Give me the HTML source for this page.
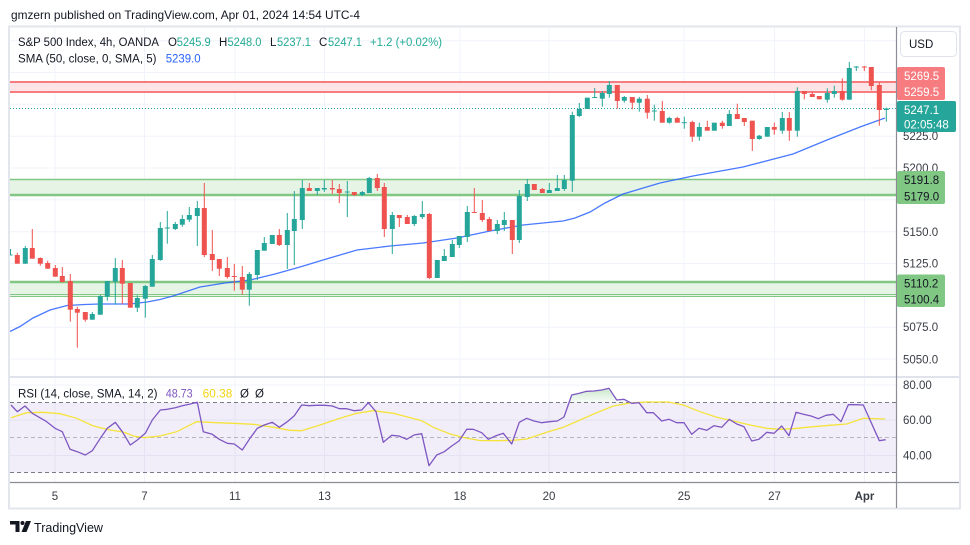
<!DOCTYPE html>
<html><head><meta charset="utf-8"><style>
html,body{margin:0;padding:0;background:#fff;}
body{width:970px;height:545px;overflow:hidden;}
svg{display:block;font-family:"Liberation Sans",Arial,sans-serif;}
</style></head><body>
<svg width="970" height="545" viewBox="0 0 970 545" xmlns="http://www.w3.org/2000/svg">
<rect x="0" y="0" width="970" height="545" fill="#fff"/>
<text x="11" y="19" font-size="12" fill="#131722" textLength="349" lengthAdjust="spacingAndGlyphs">gmzern published on TradingView.com, Apr 01, 2024 14:54 UTC-4</text>
<!-- frame -->
<rect x="9" y="26.5" width="951" height="482" fill="#fff" stroke="#e3e6ec" stroke-width="2"/>
<!-- grid -->
<g stroke="#f0f3fa" stroke-width="1">
<line x1="10" y1="40.7" x2="896" y2="40.7"/><line x1="10" y1="72.5" x2="896" y2="72.5"/><line x1="10" y1="104.3" x2="896" y2="104.3"/><line x1="10" y1="136.2" x2="896" y2="136.2"/><line x1="10" y1="168" x2="896" y2="168"/><line x1="10" y1="199.8" x2="896" y2="199.8"/><line x1="10" y1="231.7" x2="896" y2="231.7"/><line x1="10" y1="263.5" x2="896" y2="263.5"/><line x1="10" y1="295.3" x2="896" y2="295.3"/><line x1="10" y1="327.2" x2="896" y2="327.2"/><line x1="10" y1="359" x2="896" y2="359"/>
<line x1="55" y1="27" x2="55" y2="482"/><line x1="144.5" y1="27" x2="144.5" y2="482"/><line x1="235" y1="27" x2="235" y2="482"/><line x1="324.5" y1="27" x2="324.5" y2="482"/><line x1="460" y1="27" x2="460" y2="482"/><line x1="549" y1="27" x2="549" y2="482"/><line x1="684" y1="27" x2="684" y2="482"/><line x1="774.5" y1="27" x2="774.5" y2="482"/><line x1="864.5" y1="27" x2="864.5" y2="482"/>
</g>
<!-- zones -->
<rect x="10" y="82" width="886" height="10" fill="#fde4e6"/>
<line x1="10" y1="82" x2="896" y2="82" stroke="#f77c80" stroke-width="2"/>
<line x1="10" y1="92" x2="896" y2="92" stroke="#f77c80" stroke-width="2"/>
<rect x="10" y="179.5" width="886" height="15.5" fill="#e6f4e6"/>
<line x1="10" y1="179.5" x2="896" y2="179.5" stroke="#81c784" stroke-width="1.5"/>
<line x1="10" y1="195" x2="896" y2="195" stroke="#81c784" stroke-width="2.5"/>
<rect x="10" y="282" width="886" height="14" fill="#e6f4e6"/>
<line x1="10" y1="282" x2="896" y2="282" stroke="#81c784" stroke-width="2.5"/>
<line x1="10" y1="294.5" x2="896" y2="294.5" stroke="#81c784" stroke-width="1"/>
<line x1="10" y1="296.5" x2="896" y2="296.5" stroke="#81c784" stroke-width="1"/>
<!-- last price dotted -->
<line x1="10" y1="108.5" x2="896" y2="108.5" stroke="#26a69a" stroke-width="1" stroke-dasharray="1 2"/>
<!-- SMA -->
<polyline fill="none" stroke="#2962ff" stroke-width="1.3" stroke-opacity="0.85" points="10,331.5 20,326.5 33,318 50,310 67,305.5 85,304.5 100,304 130,304 147,302 160,299.5 173,296 200,287 225,283 250,280 275,274 300,267 323,260 357,250 390,246 423,243 457,238 490,231 523,225 563,221 575,218 590,212 605,203 623,194 660,183 693,176 743,167 793,154 827,140 860,127 885,118"/>
<!-- teal candles -->
<g fill="#26a69a">
<rect x="10" y="249" width="1" height="6"/><rect x="10" y="254.5" width="2.5" height="1"/>
<rect x="24.8" y="246" width="1" height="17.7"/><rect x="22.8" y="248" width="5" height="15.7"/>
<rect x="91.8" y="312" width="1" height="7.7"/><rect x="89.8" y="314" width="5" height="5.7"/>
<rect x="99.8" y="295" width="1" height="19.7"/><rect x="97.8" y="296" width="5" height="18.7"/>
<rect x="106.8" y="281" width="1" height="19.7"/><rect x="104.8" y="281" width="5" height="15.7"/>
<rect x="114.8" y="258" width="1" height="46.7"/><rect x="112.8" y="268" width="5" height="13.7"/>
<rect x="136.8" y="295.3" width="1" height="16.7"/><rect x="134.8" y="298" width="5" height="9.7"/>
<rect x="144.8" y="285" width="1" height="32.7"/><rect x="142.8" y="286" width="5" height="12.7"/>
<rect x="151.8" y="255" width="1" height="31.7"/><rect x="149.8" y="259" width="5" height="27.7"/>
<rect x="159.8" y="222" width="1" height="38.7"/><rect x="157.8" y="228" width="5" height="32"/>
<rect x="166.8" y="211" width="1" height="32.7"/><rect x="164.8" y="227.5" width="5" height="1"/>
<rect x="174.8" y="222" width="1" height="8"/><rect x="172.8" y="224" width="5" height="5"/>
<rect x="181.8" y="215" width="1" height="11.7"/><rect x="179.8" y="219" width="5" height="5.7"/>
<rect x="188.8" y="207" width="1" height="15"/><rect x="186.8" y="215" width="5" height="4.7"/>
<rect x="196.8" y="201" width="1" height="45"/><rect x="194.8" y="208" width="5" height="8"/>
<rect x="248.8" y="272" width="1" height="33.7"/><rect x="246.8" y="274" width="5" height="15.7"/>
<rect x="256.8" y="250" width="1" height="30"/><rect x="254.8" y="250" width="5" height="25"/>
<rect x="263.8" y="237" width="1" height="13.7"/><rect x="261.8" y="243" width="5" height="7.7"/>
<rect x="271.8" y="235" width="1" height="9"/><rect x="269.8" y="235" width="5" height="9"/>
<rect x="286.8" y="213" width="1" height="56"/><rect x="284.8" y="230" width="5" height="15"/>
<rect x="293.8" y="191" width="1" height="74"/><rect x="291.8" y="219" width="5" height="12"/>
<rect x="301.8" y="180" width="1" height="49"/><rect x="299.8" y="188" width="5" height="32"/>
<rect x="316.8" y="188" width="1" height="7"/><rect x="314.8" y="188" width="5" height="3"/>
<rect x="323.8" y="180" width="1" height="12"/><rect x="321.8" y="188" width="5" height="1.5"/>
<rect x="346.8" y="181" width="1" height="36"/><rect x="344.8" y="191.5" width="5" height="1"/>
<rect x="361.8" y="191" width="1" height="5"/><rect x="359.8" y="192" width="5" height="3"/>
<rect x="368.8" y="177" width="1" height="16"/><rect x="366.8" y="178" width="5" height="15"/>
<rect x="391.8" y="212" width="1" height="42"/><rect x="389.8" y="215" width="5" height="14"/>
<rect x="413.8" y="215" width="1" height="11"/><rect x="411.8" y="216" width="5" height="8"/>
<rect x="421.8" y="201" width="1" height="18"/><rect x="419.8" y="214" width="5" height="3"/>
<rect x="436.8" y="260" width="1" height="18"/><rect x="434.8" y="260" width="5" height="18"/>
<rect x="443.8" y="249" width="1" height="12"/><rect x="441.8" y="256" width="5" height="5"/>
<rect x="451.8" y="240" width="1" height="17"/><rect x="449.8" y="244" width="5" height="13"/>
<rect x="458.8" y="236" width="1" height="12"/><rect x="456.8" y="236" width="5" height="9"/>
<rect x="466.8" y="206" width="1" height="36"/><rect x="464.8" y="212" width="5" height="25"/>
<rect x="496.8" y="220" width="1" height="14"/><rect x="494.8" y="224" width="5" height="7"/>
<rect x="503.8" y="212" width="1" height="19"/><rect x="501.8" y="220" width="5" height="5"/>
<rect x="518.8" y="190" width="1" height="53"/><rect x="516.8" y="196" width="5" height="44"/>
<rect x="526.8" y="179" width="1" height="22"/><rect x="524.8" y="184" width="5" height="13"/>
<rect x="548.8" y="183" width="1" height="10"/><rect x="546.8" y="190" width="5" height="3"/>
<rect x="556.8" y="175" width="1" height="16"/><rect x="554.8" y="188" width="5" height="3"/>
<rect x="563.8" y="175" width="1" height="16"/><rect x="561.8" y="180" width="5" height="9"/>
<rect x="571.8" y="111.7" width="1" height="80.3"/><rect x="569.8" y="115" width="5" height="65.7"/>
<rect x="578.8" y="103" width="1" height="14"/><rect x="576.8" y="109" width="5" height="7"/>
<rect x="586.8" y="97.7" width="1" height="11.3"/><rect x="584.8" y="97.7" width="5" height="11.3"/>
<rect x="594.2" y="88" width="1" height="10"/><rect x="592.2" y="97" width="5" height="1"/>
<rect x="601.8" y="91" width="1" height="15.7"/><rect x="599.8" y="93" width="5" height="5.7"/>
<rect x="608.8" y="81" width="1" height="16.7"/><rect x="606.8" y="85" width="5" height="9"/>
<rect x="623.8" y="96" width="1" height="6.7"/><rect x="621.8" y="97" width="5" height="3.7"/>
<rect x="638.8" y="97" width="1" height="14.7"/><rect x="636.8" y="98.7" width="5" height="4"/>
<rect x="653.8" y="104.7" width="1" height="16"/><rect x="651.8" y="110.5" width="5" height="1"/>
<rect x="668.8" y="116.7" width="1" height="7"/><rect x="666.8" y="118" width="5" height="4.7"/>
<rect x="683.8" y="116.7" width="1" height="12"/><rect x="681.8" y="122.2" width="5" height="1"/>
<rect x="698.8" y="122.7" width="1" height="18"/><rect x="696.8" y="127" width="5" height="9.7"/>
<rect x="713.8" y="122.7" width="1" height="8"/><rect x="711.8" y="122.7" width="5" height="8"/>
<rect x="728.8" y="110" width="1" height="16"/><rect x="726.8" y="114" width="5" height="12"/>
<rect x="758.8" y="135" width="1" height="4.7"/><rect x="756.8" y="135.7" width="5" height="3.3"/>
<rect x="766.8" y="127" width="1" height="9.7"/><rect x="764.8" y="127" width="5" height="9.7"/>
<rect x="781.8" y="112" width="1" height="21.7"/><rect x="779.8" y="118" width="5" height="12.7"/>
<rect x="796.8" y="87.3" width="1" height="49.4"/><rect x="794.8" y="91" width="5" height="39.7"/>
<rect x="826.8" y="88.3" width="1" height="14.4"/><rect x="824.8" y="93" width="5" height="6.7"/>
<rect x="833.8" y="85.7" width="1" height="12"/><rect x="831.8" y="91" width="5" height="3"/>
<rect x="848.8" y="62" width="1" height="37.7"/><rect x="846.8" y="68" width="5" height="31.7"/>
<rect x="855.8" y="66" width="1" height="5"/><rect x="853.8" y="66.5" width="5" height="1"/>
<rect x="885.8" y="107.7" width="1" height="14"/><rect x="883.8" y="108.5" width="5" height="1.5"/>
</g>
<!-- red candles -->
<g fill="#ef5350">
<rect x="16.8" y="252.7" width="1" height="11"/><rect x="14.8" y="255" width="5" height="8.7"/>
<rect x="31.8" y="229" width="1" height="29.7"/><rect x="29.8" y="248" width="5" height="10.7"/>
<rect x="39.8" y="257.3" width="1" height="8.4"/><rect x="37.8" y="258" width="5" height="5.7"/>
<rect x="47.2" y="260.7" width="1" height="8"/><rect x="45.2" y="263" width="5" height="5.7"/>
<rect x="54.8" y="265" width="1" height="11.7"/><rect x="52.8" y="268" width="5" height="8.7"/>
<rect x="61.8" y="267" width="1" height="15.7"/><rect x="59.8" y="276" width="5" height="6"/>
<rect x="69.8" y="274" width="1" height="47.7"/><rect x="67.8" y="281" width="5" height="28.7"/>
<rect x="76.8" y="306.7" width="1" height="41"/><rect x="74.8" y="309" width="5" height="3.7"/>
<rect x="84.8" y="312" width="1" height="9.7"/><rect x="82.8" y="312" width="5" height="7.7"/>
<rect x="121.8" y="260" width="1" height="44.3"/><rect x="119.8" y="268" width="5" height="15.7"/>
<rect x="129.8" y="283" width="1" height="24.7"/><rect x="127.8" y="283" width="5" height="24.7"/>
<rect x="203.8" y="183" width="1" height="74"/><rect x="201.8" y="208" width="5" height="47"/>
<rect x="211.8" y="230" width="1" height="41"/><rect x="209.8" y="254" width="5" height="6"/>
<rect x="218.8" y="259" width="1" height="17"/><rect x="216.8" y="259" width="5" height="9.7"/>
<rect x="226.8" y="257" width="1" height="21.7"/><rect x="224.8" y="268" width="5" height="9"/>
<rect x="233.8" y="264" width="1" height="26.7"/><rect x="231.8" y="276" width="5" height="1"/>
<rect x="241.8" y="266" width="1" height="28.7"/><rect x="239.8" y="277" width="5" height="12.7"/>
<rect x="278.8" y="229" width="1" height="17"/><rect x="276.8" y="235" width="5" height="10"/>
<rect x="308.8" y="183" width="1" height="8"/><rect x="306.8" y="188" width="5" height="3"/>
<rect x="331.8" y="180" width="1" height="14"/><rect x="329.8" y="188" width="5" height="1.5"/>
<rect x="338.8" y="184" width="1" height="19"/><rect x="336.8" y="189" width="5" height="4"/>
<rect x="353.8" y="192" width="1" height="4"/><rect x="351.8" y="192" width="5" height="3"/>
<rect x="376.8" y="174" width="1" height="17"/><rect x="374.8" y="178" width="5" height="10"/>
<rect x="383.8" y="183" width="1" height="54"/><rect x="381.8" y="187" width="5" height="42"/>
<rect x="398.8" y="215" width="1" height="12"/><rect x="396.8" y="215" width="5" height="3"/>
<rect x="406.8" y="215" width="1" height="9"/><rect x="404.8" y="217" width="5" height="7"/>
<rect x="428.8" y="213" width="1" height="66"/><rect x="426.8" y="214" width="5" height="64"/>
<rect x="473.8" y="188" width="1" height="25"/><rect x="471.8" y="212" width="5" height="1"/>
<rect x="481.8" y="200" width="1" height="22"/><rect x="479.8" y="213" width="5" height="7"/>
<rect x="488.8" y="217" width="1" height="14"/><rect x="486.8" y="219" width="5" height="12"/>
<rect x="511.8" y="220" width="1" height="34"/><rect x="509.8" y="220" width="5" height="20"/>
<rect x="533.8" y="184" width="1" height="6"/><rect x="531.8" y="184" width="5" height="6"/>
<rect x="541.8" y="188" width="1" height="5"/><rect x="539.8" y="189" width="5" height="4"/>
<rect x="616.8" y="85" width="1" height="23.7"/><rect x="614.8" y="85" width="5" height="16"/>
<rect x="631.8" y="97" width="1" height="12.3"/><rect x="629.8" y="97" width="5" height="5.7"/>
<rect x="646.8" y="95" width="1" height="23.7"/><rect x="644.8" y="98.7" width="5" height="14"/>
<rect x="661.8" y="101" width="1" height="21.7"/><rect x="659.8" y="111" width="5" height="11.7"/>
<rect x="676.8" y="116.7" width="1" height="6"/><rect x="674.8" y="118" width="5" height="4.7"/>
<rect x="691.8" y="120.7" width="1" height="21"/><rect x="689.8" y="122" width="5" height="14.7"/>
<rect x="706.8" y="120.7" width="1" height="10"/><rect x="704.8" y="127" width="5" height="3.7"/>
<rect x="721.8" y="120.7" width="1" height="8"/><rect x="719.8" y="122.7" width="5" height="3.3"/>
<rect x="736.8" y="103.7" width="1" height="15.3"/><rect x="734.8" y="114" width="5" height="5"/>
<rect x="743.8" y="118" width="1" height="8"/><rect x="741.8" y="118" width="5" height="4"/>
<rect x="751.8" y="120.7" width="1" height="30.3"/><rect x="749.8" y="120.7" width="5" height="18.3"/>
<rect x="773.8" y="122.7" width="1" height="12"/><rect x="771.8" y="127" width="5" height="2.7"/>
<rect x="788.8" y="112" width="1" height="28.7"/><rect x="786.8" y="118" width="5" height="12.7"/>
<rect x="803.8" y="91" width="1" height="8.3"/><rect x="801.8" y="91" width="5" height="3"/>
<rect x="811.8" y="92" width="1" height="5"/><rect x="809.8" y="94" width="5" height="3"/>
<rect x="818.8" y="96" width="1" height="3.3"/><rect x="816.8" y="96" width="5" height="3.3"/>
<rect x="841.8" y="78.3" width="1" height="22.4"/><rect x="839.8" y="91" width="5" height="8.7"/>
<rect x="863.8" y="66" width="1" height="5"/><rect x="861.8" y="66.5" width="5" height="1"/>
<rect x="870.8" y="67" width="1" height="23.3"/><rect x="868.8" y="67" width="5" height="19"/>
<rect x="878.8" y="82" width="1" height="43.7"/><rect x="876.8" y="85" width="5" height="25"/>
</g>
<!-- legend main -->
<g font-size="11.5">
<text x="18" y="46" fill="#131722" textLength="141" lengthAdjust="spacingAndGlyphs">S&amp;P 500 Index, 4h, OANDA</text>
<text x="168" y="46" fill="#131722">O</text><text x="176.7" y="46" fill="#22ab94" textLength="34" lengthAdjust="spacingAndGlyphs">5245.9</text>
<text x="219" y="46" fill="#131722">H</text><text x="227.5" y="46" fill="#22ab94" textLength="34" lengthAdjust="spacingAndGlyphs">5248.0</text>
<text x="270" y="46" fill="#131722">L</text><text x="277" y="46" fill="#22ab94" textLength="34" lengthAdjust="spacingAndGlyphs">5237.1</text>
<text x="319" y="46" fill="#131722">C</text><text x="328" y="46" fill="#22ab94" textLength="34" lengthAdjust="spacingAndGlyphs">5247.1</text>
<text x="370" y="46" fill="#22ab94" textLength="72" lengthAdjust="spacingAndGlyphs">+1.2 (+0.02%)</text>
<text x="18" y="62.5" fill="#131722" textLength="138.5" lengthAdjust="spacingAndGlyphs">SMA (50, close, 0, SMA, 5)</text>
<text x="165.7" y="62.5" fill="#2962ff" textLength="35" lengthAdjust="spacingAndGlyphs">5239.0</text>
</g>
<!-- RSI pane -->
<g stroke="#f0f3fa" stroke-width="1">
<line x1="10" y1="385" x2="896" y2="385"/><line x1="10" y1="420" x2="896" y2="420"/><line x1="10" y1="455.5" x2="896" y2="455.5"/>
</g>
<rect x="10" y="402.5" width="886" height="70" fill="#7e57c2" fill-opacity="0.1"/>
<line x1="10" y1="402.5" x2="896" y2="402.5" stroke="#787b86" stroke-width="1" stroke-dasharray="4 3"/>
<line x1="10" y1="437.5" x2="896" y2="437.5" stroke="#787b86" stroke-opacity="0.5" stroke-width="1" stroke-dasharray="4 3"/>
<line x1="10" y1="472.5" x2="896" y2="472.5" stroke="#787b86" stroke-width="1" stroke-dasharray="4 3"/>
<defs><linearGradient id="gg" x1="0" y1="0" x2="0" y2="1"><stop offset="0" stop-color="#4caf50" stop-opacity="0.3"/><stop offset="1" stop-color="#4caf50" stop-opacity="0.03"/></linearGradient></defs>
<polygon fill="url(#gg)" points="569,402.5 571.7,395 579.3,393.3 586.7,391.3 594,391 601.7,390 609,388.3 616.7,400 624,399.3 629.5,402.5"/>
<polyline fill="none" stroke="#f5e33a" stroke-width="1.3" points="11,417.7 26.7,412.7 43.3,412.3 60,413.7 76.7,418.3 93.3,426 110,430 123.3,432 133.3,436 144.3,437.7 160,436 176.7,431.7 196.7,421.7 216.7,422.7 233.3,423.3 253.3,424.3 273.3,427.3 290,430.3 301.7,430.7 320,425 340,418.3 356.7,413.3 373.3,410.7 393.3,413.3 406.7,416.7 421.7,420.7 433.3,427.3 450,434 466.7,438.3 480,440.5 496.7,440.7 513.3,440.3 526.7,439 546.7,432.3 563.3,427.3 580,420 596.7,412.7 613.3,406 630,403 646.7,402 668.3,402 683.3,405 700,411.7 716.7,417.3 733.3,421 750,425 766.7,428.3 780,429.3 793.3,428.7 813.3,426.7 830,425.3 846.7,424 863.3,418.3 885,419"/>
<polyline fill="none" stroke="#7e57c2" stroke-width="1.3" stroke-linejoin="round" points="11,405 17.3,411.7 25,406 32.3,413.3 46.7,421.7 55,428.3 62.3,431.7 70,449.3 77.3,451.7 85.3,455 92.3,450.7 100.3,438.3 107.3,428.3 115.3,422.3 122.3,431.7 130.3,445 137.3,440 145.3,433.3 152.3,420 160.3,410 167.3,409.3 175.3,407.7 182.3,405.7 189.3,404.3 197.3,402.3 203.3,431.7 212.3,434.3 219.3,439.3 227.3,443.3 234.3,444 242.3,450 249.3,439.3 257.3,428.3 264.3,425 272.3,422.3 279.3,427.3 287.3,421.7 294.3,415.7 301.7,405 309.3,405.7 316.7,405.3 325,405.3 332.3,406 339.3,408.7 346.7,408.7 354.3,410.7 361.7,410 368.3,402.7 376,411.7 383.3,442.3 391.7,435.3 399,436 406.7,439.3 414,435 421.7,433.7 429,465.7 436.7,455 444.3,451.7 451.7,446 459,441 466.7,429.3 473.3,429.3 481.7,432.7 488.3,439.3 496,435.7 503.3,433.3 511.7,444 519.3,422.3 526.7,418.3 534,421 541.7,422.7 549.3,421.7 557.3,421 564,417 571.7,395 579.3,393.3 586.7,391.3 594,391 601.7,390 609,388.3 616.7,400 624,399.3 631.7,403.3 639,402.7 646.7,412.7 653.3,412.7 661.7,421 669,419.3 676.7,422.7 684,422.7 691.7,434.3 699,428.3 706.7,430.3 714,425.7 721.7,427.3 729.3,419.3 736.7,424 744,426.7 751.7,441 759,439.3 766.7,432.3 774,433.3 781.7,426 789,435.7 796,412.3 803.3,414.3 811,416 818.3,418.7 826,415.3 833.3,414.3 841,421.7 848.3,404.7 856,404.7 863.3,405 879.3,440.7 885.7,439.7"/>
<g font-size="11.5">
<text x="18" y="397.5" fill="#131722" textLength="139.5" lengthAdjust="spacingAndGlyphs">RSI (14, close, SMA, 14, 2)</text>
<text x="165.7" y="397.5" fill="#7e57c2" textLength="27" lengthAdjust="spacingAndGlyphs">48.73</text>
<text x="202.7" y="397.5" fill="#f2d312" textLength="29.6" lengthAdjust="spacingAndGlyphs">60.38</text>
<text x="240" y="397.5" fill="#131722">Ø</text>
<text x="255" y="397.5" fill="#131722">Ø</text>
</g>
<!-- separators & axes -->
<line x1="10" y1="377" x2="959" y2="377" stroke="#e0e3eb" stroke-width="2"/>
<line x1="896.5" y1="27" x2="896.5" y2="508" stroke="#8a8d96" stroke-width="1.2"/>
<line x1="10" y1="482.5" x2="959" y2="482.5" stroke="#8a8d96" stroke-width="1.2"/>
<!-- price axis labels -->
<g font-size="11.5" fill="#3a3d46">
<text x="903" y="140">5225.0</text>
<text x="903" y="172">5200.0</text>
<text x="903" y="236">5150.0</text>
<text x="903" y="267.5">5125.0</text>
<text x="903" y="331">5075.0</text>
<text x="903" y="363.5">5050.0</text>
<text x="903" y="389">80.00</text>
<text x="903" y="424">60.00</text>
<text x="903" y="459.5">40.00</text>
</g>
<!-- USD button -->
<rect x="900.5" y="31.5" width="56" height="25" rx="4" fill="#fff" stroke="#e0e3eb"/>
<text x="909" y="48" font-size="11.5" fill="#131722">USD</text>
<!-- price label boxes -->
<rect x="897" y="67" width="48" height="33" rx="2" fill="#f77c80"/>
<text x="904" y="80" font-size="11.5" fill="#fff">5269.5</text>
<text x="904" y="96" font-size="11.5" fill="#fff">5259.5</text>
<rect x="897" y="101" width="59" height="31" rx="2" fill="#26a69a"/>
<text x="904" y="114" font-size="11.5" fill="#fff">5247.1</text>
<text x="904" y="128.5" font-size="11.5" fill="#fff">02:05:48</text>
<rect x="897" y="171" width="48" height="33" rx="2" fill="#81c784"/>
<text x="904" y="184" font-size="11.5" fill="#131722">5191.8</text>
<text x="904" y="200.5" font-size="11.5" fill="#131722">5179.0</text>
<rect x="897" y="274.5" width="48" height="32.5" rx="2" fill="#81c784"/>
<text x="904" y="287.5" font-size="11.5" fill="#131722">5110.2</text>
<text x="904" y="303.5" font-size="11.5" fill="#131722">5100.4</text>
<!-- time axis -->
<g font-size="11.5" fill="#3a3d46" text-anchor="middle">
<text x="55" y="500">5</text>
<text x="144.5" y="500">7</text>
<text x="235" y="500">11</text>
<text x="324.5" y="500">13</text>
<text x="460" y="500">18</text>
<text x="549" y="500">20</text>
<text x="684" y="500">25</text>
<text x="774.5" y="500">27</text>
<text x="864.5" y="500" font-weight="bold">Apr</text>
</g>
<!-- footer logo -->
<g fill="#131722">
<path d="M10 521h9.5v11h-4v-7.5h-5.5z"/>
<circle cx="22.5" cy="523" r="2"/>
<polygon points="26,521 31,521 26.5,532 21.5,532"/>
</g>
<text x="34" y="532" font-size="12.5" fill="#131722" textLength="69" lengthAdjust="spacingAndGlyphs">TradingView</text>
</svg>
</body></html>
